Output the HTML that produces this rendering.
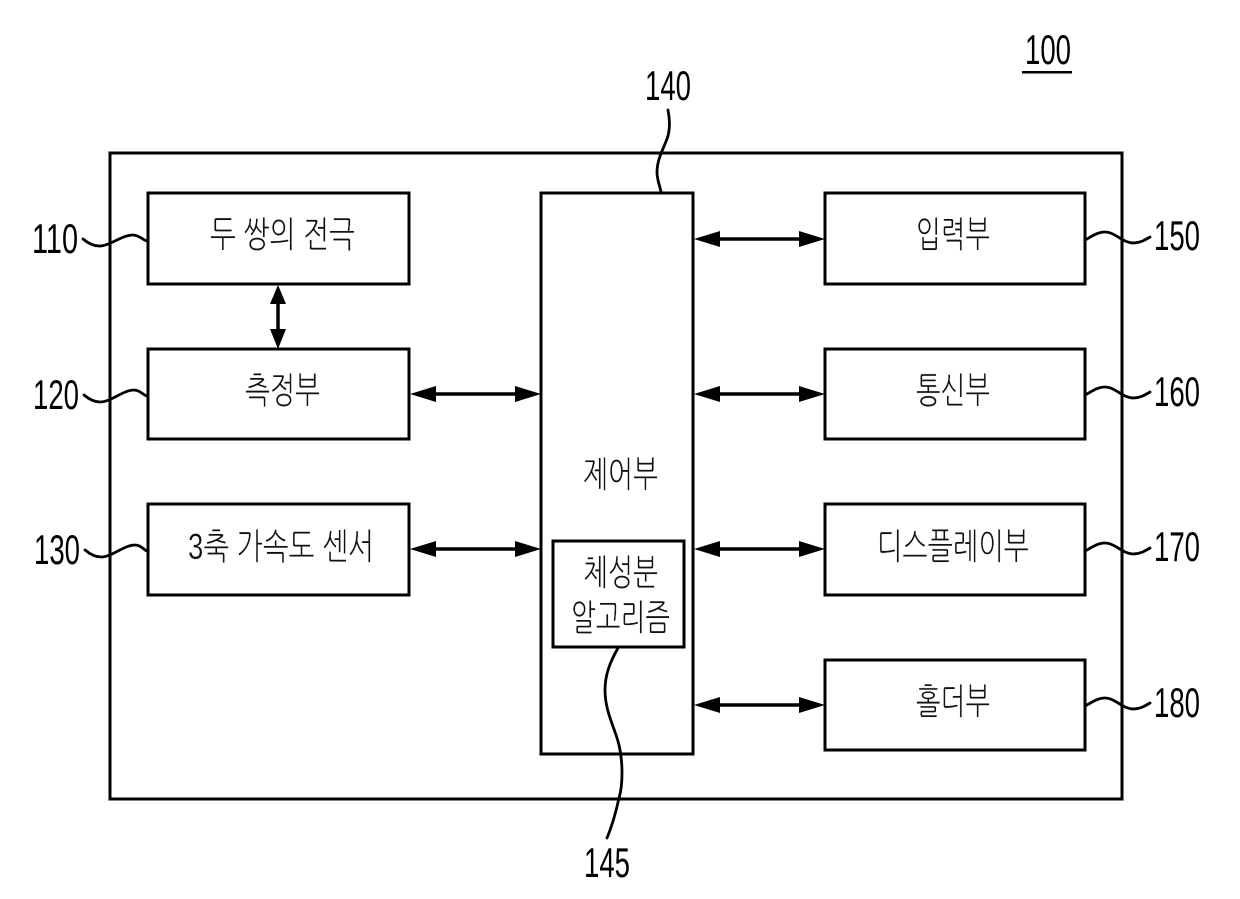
<!DOCTYPE html>
<html><head><meta charset="utf-8"><style>
html,body{margin:0;padding:0;background:#fff;width:1240px;height:899px;overflow:hidden}
svg{display:block}
.k{font-family:"Liberation Sans","NanumGothic","Noto Sans CJK KR",sans-serif;font-size:36px;font-weight:400;fill:#111;stroke:#fff;stroke-width:.35px}
.n{font-family:"Liberation Sans",sans-serif;font-size:41.5px;fill:#000}
.b{fill:none;stroke:#000;stroke-width:3}
.w{fill:none;stroke:#000;stroke-width:2.8;stroke-linecap:round}
.a{stroke:#000;stroke-width:3.5;fill:none}
</style></head><body>
<svg width="1240" height="899" viewBox="0 0 1240 899" xmlns="http://www.w3.org/2000/svg">
<rect class="b" x="110" y="153" width="1012" height="646"/>
<rect class="b" x="148" y="193" width="261" height="91"/>
<rect class="b" x="148" y="349" width="261" height="90"/>
<rect class="b" x="148" y="504" width="261" height="91"/>
<rect class="b" x="541" y="193" width="152" height="561"/>
<rect class="b" x="553" y="541" width="131" height="106"/>
<rect class="b" x="825" y="193" width="260" height="91"/>
<rect class="b" x="825" y="349" width="260" height="90"/>
<rect class="b" x="825" y="504" width="260" height="91"/>
<rect class="b" x="825" y="660" width="260" height="90"/>

<!-- arrows -->
<path class="a" d="M278 300V335"/>
<polygon points="278,285 270,304 286,304"/><polygon points="278,349 270,329 286,329"/>
<path class="a" d="M715 239H805"/><polygon points="694,239 720,231 720,247"/><polygon points="825,239 799,231 799,247"/>
<path class="a" d="M715 394H805"/><polygon points="694,394 720,386 720,402"/><polygon points="825,394 799,386 799,402"/>
<path class="a" d="M715 549H805"/><polygon points="694,549 720,541 720,557"/><polygon points="825,549 799,541 799,557"/>
<path class="a" d="M715 705H805"/><polygon points="694,705 720,697 720,713"/><polygon points="825,705 799,697 799,713"/>
<path class="a" d="M430 394H520"/><polygon points="410,394 436,386 436,402"/><polygon points="541,394 515,386 515,402"/>
<path class="a" d="M430 549H520"/><polygon points="410,549 436,541 436,557"/><polygon points="541,549 515,541 515,557"/>

<!-- leader lines -->
<path class="w" d="M83 239C89 244 94 246 99 246C110 246 122 235 133 235C139 235 143 240 147 241"/>
<path class="w" d="M84 395C90 400 95 402 100 402C111 402 123 390 134 390C140 390 143 395 147 396"/>
<path class="w" d="M85 550C91 555 96 557 101 557C112 557 124 545 135 545C141 545 144 550 147 551"/>
<path class="w" d="M1087 239C1092 236 1098 232 1105 232C1115 232 1123 243 1133 243C1140 243 1145 240 1150 237"/>
<path class="w" d="M1087 394C1092 391 1098 387 1105 387C1115 387 1123 398 1133 398C1140 398 1145 395 1150 392"/>
<path class="w" d="M1087 550C1092 547 1098 543 1105 543C1115 543 1123 554 1133 554C1140 554 1145 551 1150 548"/>
<path class="w" d="M1087 705C1092 702 1098 698 1105 698C1115 698 1123 709 1133 709C1140 709 1145 706 1150 703"/>
<path class="w" d="M668 110C670 120 670 128 668 136C665 146 657 158 657 172C657 180 660 186 661 192"/>
<path class="w" d="M618 648C610 662 605 675 605 690C605 712 615 728 619 745C623 762 623 785 619 798C616 812 612 826 607 838"/>

<!-- korean labels -->
<text class="k" x="210" y="247" textLength="145" lengthAdjust="spacingAndGlyphs">두 쌍의 전극</text>
<text class="k" x="245" y="403" textLength="75" lengthAdjust="spacingAndGlyphs">측정부</text>
<text class="k" x="188" y="559" textLength="186" lengthAdjust="spacingAndGlyphs">3축 가속도 센서</text>
<text class="k" x="583" y="487" textLength="75" lengthAdjust="spacingAndGlyphs">제어부</text>
<text class="k" x="583" y="585" textLength="75" lengthAdjust="spacingAndGlyphs">체성분</text>
<text class="k" x="571" y="630" textLength="99" lengthAdjust="spacingAndGlyphs">알고리즘</text>
<text class="k" x="916" y="247" textLength="74" lengthAdjust="spacingAndGlyphs">입력부</text>
<text class="k" x="916" y="403" textLength="74" lengthAdjust="spacingAndGlyphs">통신부</text>
<text class="k" x="877" y="559" textLength="152" lengthAdjust="spacingAndGlyphs">디스플레이부</text>
<text class="k" x="916" y="714" textLength="74" lengthAdjust="spacingAndGlyphs">홀더부</text>

<!-- numerals -->
<text class="n" x="1025" y="64" textLength="46" lengthAdjust="spacingAndGlyphs">100</text>
<rect x="1022" y="71" width="50" height="2.5"/>
<text class="n" x="645" y="100" textLength="46" lengthAdjust="spacingAndGlyphs">140</text>
<text class="n" x="584" y="877" textLength="46" lengthAdjust="spacingAndGlyphs">145</text>
<text class="n" x="32" y="253" textLength="46" lengthAdjust="spacingAndGlyphs">110</text>
<text class="n" x="33" y="409" textLength="46" lengthAdjust="spacingAndGlyphs">120</text>
<text class="n" x="34" y="564" textLength="46" lengthAdjust="spacingAndGlyphs">130</text>
<text class="n" x="1154" y="250" textLength="46" lengthAdjust="spacingAndGlyphs">150</text>
<text class="n" x="1154" y="406" textLength="46" lengthAdjust="spacingAndGlyphs">160</text>
<text class="n" x="1154" y="561" textLength="46" lengthAdjust="spacingAndGlyphs">170</text>
<text class="n" x="1154" y="717" textLength="46" lengthAdjust="spacingAndGlyphs">180</text>
</svg>
</body></html>
